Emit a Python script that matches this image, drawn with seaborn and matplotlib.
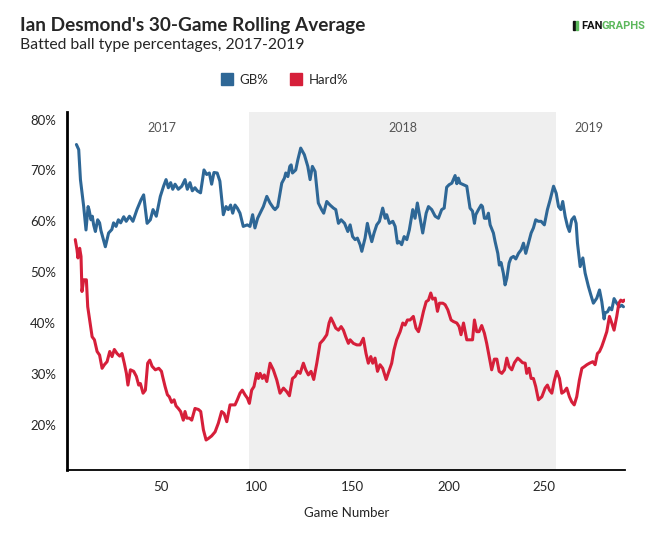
import matplotlib
matplotlib.use("Agg")
import matplotlib.pyplot as plt
import matplotlib.patches as mpatches
from matplotlib.lines import Line2D
from matplotlib.ticker import FuncFormatter
import pandas as pd
import seaborn as sns

# values (game number, percent)
gb_game = [5.8, 7.0, 7.9, 9.6, 10.8, 11.9, 12.4, 13.4, 14.1, 14.8, 15.7, 16.9, 17.9, 18.6, 20.9, 22.6,
           24.3, 25.2, 26.5, 27.7, 28.9, 30.5, 31.8, 33.5, 35.3, 37.4, 39.5, 40.9, 42.7, 44.4, 45.8,
           47.5, 49.6, 51.3, 52.6, 53.8, 55.0, 56.1, 57.3, 59.0, 60.8, 62.5, 63.7, 65.1, 66.3, 67.7,
           68.9, 70.6, 72.4, 73.8, 75.2, 76.4, 77.6, 79.3, 80.7, 82.5, 83.9, 85.1, 86.3, 87.4, 88.6,
           89.8, 91.2, 92.9, 95.0, 96.4, 97.8, 99.0, 100.4, 101.7, 103.4, 105.2, 106.9, 108.7, 109.5,
           110.9, 113.0, 114.4, 115.1, 116.2, 117.2, 117.9, 118.6, 120.3, 121.4, 122.9, 124.8, 126.6,
           127.8, 129.0, 130.4, 132.1, 133.8, 134.9, 136.5, 138.2, 140.0, 141.2, 142.6, 144.0, 145.8,
           147.5, 148.7, 150.0, 151.3, 152.5, 153.9, 154.8, 156.5, 157.7, 158.8, 160.0, 161.2, 162.6,
           164.0, 165.7, 167.0, 167.8, 169.2, 171.0, 172.2, 173.4, 174.4, 175.6, 176.9, 178.3, 179.6,
           181.4, 182.6, 183.8, 185.2, 186.6, 188.4, 189.6, 191.3, 193.1, 194.8, 196.5, 197.8, 199.1,
           200.4, 201.8, 202.6, 203.5, 204.4, 205.2, 206.1, 207.8, 209.6, 211.3, 212.6, 213.6, 214.3,
           215.7, 217.1, 217.8, 218.8, 220.0, 220.9, 221.8, 223.5, 224.4, 225.8, 226.6, 227.5, 228.7,
           229.6, 230.5, 231.7, 232.7, 234.0, 235.2, 236.6, 238.0, 239.2, 240.4, 241.8, 243.2, 244.4,
           245.6, 247.0, 248.4, 250.1, 251.7, 253.1, 254.9, 256.3, 257.5, 258.7, 259.7, 261.0, 262.2,
           263.2, 264.4, 265.7, 266.7, 267.4, 268.8, 270.2, 271.4, 273.1, 274.4, 275.7, 277.5, 278.9,
           280.1, 281.3, 281.8, 283.1, 284.1, 285.3, 286.5, 287.9, 289.3, 290.5, 291.4]
gb_pct = [75.1, 74.1, 68.2, 62.9, 58.3, 62.9, 62.3, 60.3, 61.0, 59.3, 58.0, 60.3, 59.7, 58.2, 55.0, 57.7,
          58.4, 59.7, 59.0, 60.3, 59.7, 60.9, 60.0, 61.0, 60.0, 62.3, 64.2, 65.2, 59.6, 60.3, 62.3,
          61.0, 64.9, 66.9, 68.2, 66.6, 67.6, 66.3, 67.3, 66.3, 66.9, 68.2, 66.3, 67.6, 66.0, 66.6,
          66.0, 65.6, 70.1, 69.2, 69.5, 67.3, 69.6, 69.5, 67.9, 61.3, 62.9, 62.3, 63.2, 61.6, 63.2,
          62.6, 61.6, 59.0, 59.3, 59.0, 61.3, 58.7, 60.6, 61.6, 62.9, 64.9, 63.6, 62.6, 62.3,
          62.9, 67.5, 68.5, 69.5, 68.8, 70.8, 71.1, 69.5, 70.1, 72.1, 74.4, 73.1, 70.8,
          68.2, 70.8, 69.8, 63.6, 62.3, 61.6, 63.9, 63.2, 62.6, 62.3, 59.6, 60.3, 59.6,
          58.0, 59.3, 57.0, 56.4, 56.7, 55.4, 54.1, 56.7, 59.6, 57.7, 56.0, 57.7, 59.3,
          60.0, 62.6, 60.6, 61.3, 59.6, 60.0, 59.0, 55.7, 56.0, 55.4, 57.0, 56.4, 58.3,
          62.3, 60.6, 63.6, 60.6, 57.7, 61.6, 62.9, 62.3, 61.0, 60.6, 62.3, 62.6, 66.7,
          67.2, 67.5, 68.2, 69.0, 67.4, 68.5, 67.5, 67.2, 66.9, 62.6, 62.0, 59.6, 61.3,
          62.3, 63.2, 62.9, 60.6, 60.6, 61.6, 59.3, 57.7, 56.0, 53.7, 51.4, 51.9, 49.8,
          47.5, 48.8, 51.8, 52.8, 53.1, 52.6, 53.7, 54.4, 55.7, 53.7, 55.7, 57.7, 58.7,
          60.3, 60.0, 60.0, 59.3, 62.3, 64.2, 66.9, 65.5, 62.9, 62.3, 63.9, 60.9, 59.0,
          58.0, 60.3, 60.9, 59.6, 55.7, 51.1, 52.8, 49.8, 47.2, 45.5, 43.9, 44.9, 46.5,
          44.2, 40.8, 42.0, 42.2, 43.0, 42.6, 44.8, 43.9, 43.2, 43.5, 43.2]

hard_game = [5.2, 6.1, 6.6, 7.5, 8.2, 8.7, 9.6, 11.0, 11.7, 12.7, 14.0, 15.2, 16.6, 17.9, 19.2, 20.4,
             21.8, 23.2, 24.4, 25.6, 27.0, 28.4, 29.6, 30.8, 31.9, 32.7, 34.0, 35.7, 37.1, 38.3, 39.2,
             40.6, 41.8, 43.0, 44.1, 45.3, 47.0, 48.8, 50.2, 50.8, 52.1, 53.3, 54.3, 55.5, 56.8, 57.8,
             59.0, 60.2, 61.6, 62.5, 63.4, 64.8, 66.0, 67.7, 69.5, 70.7, 72.1, 73.5, 74.7, 76.4, 78.2,
             79.9, 81.6, 82.9, 84.3, 86.0, 87.4, 88.6, 89.8, 91.2, 92.4, 93.8, 95.1, 96.1, 97.3, 98.5,
             99.9, 100.8, 101.7, 102.9, 103.9, 105.2, 106.9, 108.6, 110.4, 112.1, 113.9, 115.6, 117.0,
             118.6, 120.0, 121.3, 122.6, 124.3, 125.5, 126.9, 128.3, 129.7, 131.3, 133.0, 134.7, 136.5,
             137.7, 138.7, 140.0, 141.2, 142.6, 144.0, 145.2, 146.4, 147.8, 148.7, 150.4, 152.2, 153.9,
             155.6, 157.0, 158.2, 159.5, 160.5, 161.7, 163.0, 164.3, 165.7, 167.5, 169.2, 170.4, 171.6,
             173.0, 174.8, 176.2, 177.4, 178.6, 180.0, 181.7, 183.1, 184.4, 185.6, 187.0, 188.4, 189.6,
             190.8, 191.8, 193.1, 194.3, 195.3, 197.1, 198.3, 199.7, 201.4, 202.6, 204.4, 205.6, 206.6,
             207.9, 209.6, 211.3, 212.6, 213.6, 214.8, 216.0, 217.4, 218.8, 220.0, 221.3, 222.6, 224.0,
             225.3, 226.5, 227.9, 229.3, 230.5, 231.7, 233.1, 234.5, 236.2, 237.4, 238.7, 240.1, 240.9,
             242.1, 243.2, 244.4, 245.6, 247.0, 248.8, 250.5, 251.7, 252.8, 254.0, 255.2, 256.6, 258.0,
             259.2, 260.4, 261.8, 263.2, 264.4, 265.7, 267.0, 268.4, 269.7, 270.9, 272.3, 273.7, 275.4,
             276.6, 277.8, 278.9, 280.1, 281.3, 282.7, 284.1, 285.3, 286.5, 287.9, 289.0, 290.0, 291.1,
             291.8]
hard_pct = [56.4, 54.4, 52.8, 54.7, 53.1, 46.2, 48.5, 48.5, 43.2, 40.6, 37.3, 36.7, 34.4, 33.7, 31.1, 31.8,
            32.4, 34.4, 33.4, 34.8, 34.0, 33.5, 34.0, 32.1, 30.1, 27.8, 30.8, 30.5, 29.5, 27.8, 28.1,
            26.2, 26.8, 32.1, 32.7, 31.5, 30.8, 31.1, 30.5, 29.5, 27.5, 25.9, 25.5, 24.4, 24.9, 23.7,
            23.2, 22.6, 20.9, 22.6, 21.3, 21.3, 20.9, 23.2, 23.0, 22.6, 19.0, 17.0, 17.3, 17.8, 18.6,
            20.3, 22.6, 22.2, 20.6, 23.9, 23.9, 23.9, 24.9, 26.2, 26.8, 25.9, 25.2, 24.2, 26.8, 27.5,
            30.1, 29.1, 30.1, 29.1, 29.8, 28.5, 32.1, 30.8, 28.8, 26.2, 27.2, 26.5, 25.7,
            29.1, 29.5, 30.5, 30.1, 32.1, 30.8, 29.8, 30.5, 28.9, 32.1, 36.0, 36.7, 37.7,
            40.0, 41.0, 40.0, 39.0, 38.6, 39.3, 38.6, 37.3, 36.0, 36.7, 36.0, 35.7, 35.7,
            37.0, 34.0, 32.1, 33.4, 32.1, 33.1, 30.5, 31.8, 31.1, 28.9, 30.8, 32.1, 34.7,
            36.7, 38.3, 40.0, 39.6, 40.6, 40.6, 41.3, 39.0, 38.3, 40.0, 42.3, 44.2, 44.5,
            45.9, 44.7, 44.9, 42.3, 43.9, 43.9, 43.6, 42.6, 40.6, 40.3, 40.0, 39.3, 37.7,
            40.0, 36.7, 36.7, 36.7, 40.6, 38.3, 38.3, 39.5, 38.0, 36.0, 33.4, 30.8, 32.9,
            32.9, 30.5, 30.1, 30.8, 33.1, 31.4, 30.8, 32.2, 33.1, 32.7, 32.2, 32.1, 30.1,
            31.1, 29.1, 29.1, 27.5, 24.9, 25.5, 27.2, 27.8, 26.8, 26.2, 28.5, 30.5, 29.1,
            26.2, 26.5, 27.2, 25.5, 24.5, 23.9, 25.5, 28.8, 31.1, 31.4, 31.8, 32.1, 32.4,
            31.8, 34.0, 34.4, 35.4, 36.7, 38.3, 41.3, 40.0, 38.6, 41.3, 43.9, 44.5, 44.2,
            44.5]

series_names = ["GB%", "Hard%"]
series_colors = ["#2e6796", "#d61f3a"]
season_labels = ["2017", "2018", "2019"]
season_label_x = [50.5, 176, 273.5]
season_2018 = (96, 256)

df = pd.concat([
    pd.DataFrame({"Game Number": gb_game, "Pct": gb_pct, "Stat": "GB%"}),
    pd.DataFrame({"Game Number": hard_game, "Pct": hard_pct, "Stat": "Hard%"}),
])

sns.set_style("white")
plt.rcParams["font.family"] = ["Lato", "DejaVu Sans"]

fig = plt.figure(figsize=(6.65, 5.35), dpi=100)
ax = fig.add_axes([0.1008, 0.1215, 0.8396, 0.6692])

ax.axvspan(season_2018[0], season_2018[1], color="#efefef", zorder=0, lw=0)

sns.lineplot(data=df, x="Game Number", y="Pct", hue="Stat", palette=series_colors,
             hue_order=series_names, estimator=None, lw=2.2, ax=ax, legend=False)

for lab, xx in zip(season_labels, season_label_x):
    ax.text(xx, 78.4, lab, ha="center", va="center", fontsize=9, color="#555555")

ax.set_xlim(0.9, 292.4)
ax.set_ylim(11.1, 81.5)
ax.set_xticks([50, 100, 150, 200, 250])
ax.set_yticks([20, 30, 40, 50, 60, 70, 80])
ax.yaxis.set_major_formatter(FuncFormatter(lambda v, p: f"{v:.0f}%"))
ax.tick_params(axis="y", length=4, width=1, color="black", labelsize=9.5, pad=4)
ax.tick_params(axis="x", length=4, width=1, color="#999999", labelsize=9.5, pad=4)
ax.set_ylabel("")
ax.set_xlabel("Game Number", fontsize=9.5, labelpad=10)

sns.despine(ax=ax)
ax.spines["left"].set_linewidth(2)
ax.spines["left"].set_color("black")
ax.spines["bottom"].set_linewidth(1.3)
ax.spines["bottom"].set_color("black")

fig.text(0.030, 0.953, "Ian Desmond's 30-Game Rolling Average", fontsize=13.7,
         fontweight="bold", va="center", ha="left")
fig.text(0.030, 0.916, "Batted ball type percentages, 2017-2019", fontsize=11.3,
         va="center", ha="left")

handles = [Line2D([], [], marker="s", linestyle="", markersize=8, color=c) for c in series_colors]
fig.legend(handles, series_names, loc="center", bbox_to_anchor=(0.427, 0.851), ncol=2,
           frameon=False, fontsize=9.5, handletextpad=0.45, columnspacing=1.6,
           handlelength=1.0)

# fangraphs mark
fig.patches.append(mpatches.Rectangle((0.861, 0.944), 0.004, 0.016, color="#111111",
                                      transform=fig.transFigure, figure=fig))
fig.patches.append(mpatches.Rectangle((0.866, 0.944), 0.003, 0.016, color="#5cb85c",
                                      transform=fig.transFigure, figure=fig))
fig.text(0.874, 0.952, "FAN", fontsize=8, fontweight="bold", color="#111111",
         va="center", ha="left", family="Roboto")
fig.text(0.905, 0.952, "GRAPHS", fontsize=8, fontweight="bold", color="#5cb85c",
         va="center", ha="left", family="Roboto")

fig.savefig("out.png", dpi=100)
